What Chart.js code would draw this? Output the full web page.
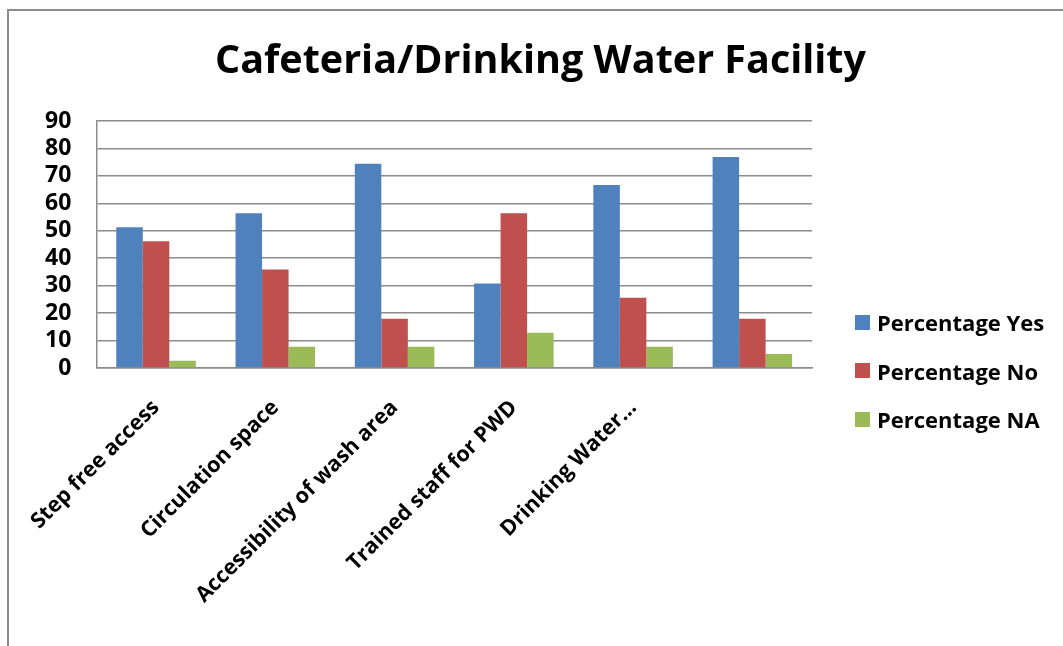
<!DOCTYPE html>
<html>
<head>
<meta charset="utf-8">
<script src="https://cdn.jsdelivr.net/npm/chart.js@4/dist/chart.umd.min.js"></script>
<style>
  html, body { margin: 0; padding: 0; background: #fff; overflow: hidden; }
  #wrap { position: relative; width: 1063px; height: 646px; overflow: hidden; }
  #frame { position: absolute; left: 7px; top: 9px; width: 1200px; height: 800px;
           border: 2px solid #8c8c8c; box-sizing: border-box; }
  #chart { position: absolute; left: 0; top: 0; }
  #legend { position: absolute; left: 855px; top: 308px; font-family: "Open Sans", sans-serif;
            font-weight: bold; font-size: 22px; color: #000; }
  .item { display: flex; align-items: center; height: 28px; margin-bottom: 20.5px; white-space: nowrap; }
  .swatch { width: 15px; height: 15px; margin-right: 7px; flex: none; }
</style>
</head>
<body>
<div id="wrap">
  <div id="frame"></div>
  <canvas id="chart" width="1063" height="646"></canvas>
  <div id="legend"></div>
</div>
<script>
const categories = [
  'Step free access',
  'Circulation space',
  'Accessibility of wash area',
  'Trained staff for PWD',
  'Drinking Water\u2026',
  ''
];
const seriesNames = ['Percentage Yes', 'Percentage No', 'Percentage NA'];
const yesValues = [51.3, 56.4, 74.4, 30.8, 66.7, 76.9];
const noValues  = [46.2, 35.9, 17.9, 56.4, 25.6, 17.9];
const naValues  = [2.6, 7.7, 7.7, 12.8, 7.7, 5.1];
const yTickValues = [0, 10, 20, 30, 40, 50, 60, 70, 80, 90];

const colors = ['#4F81BD', '#C0504D', '#9BBB59'];
const gridGray = '#8c8c8c';
const fontFamily = '"Open Sans", sans-serif';
const padLeft = 18;

const chart = new Chart(document.getElementById('chart'), {
  type: 'bar',
  data: {
    labels: categories,
    datasets: [yesValues, noValues, naValues].map((values, i) => ({
      label: seriesNames[i],
      data: values,
      backgroundColor: colors[i],
      borderWidth: 0,
      categoryPercentage: 0.667,
      barPercentage: 1.0,
      yAxisID: 'y'
    }))
  },
  options: {
    responsive: false,
    animation: false,
    layout: { padding: { left: padLeft, right: 0, top: 0, bottom: 0 } },
    plugins: {
      legend: { display: false },
      tooltip: { enabled: false },
      title: {
        display: true,
        text: 'Cafeteria/Drinking Water Facility',
        color: '#000',
        font: { family: fontFamily, size: 39.5, weight: 'bold', lineHeight: 1.2 },
        padding: { top: 38, bottom: 35.6 }
      }
    },
    scales: {
      x: {
        grid: { display: false, drawTicks: false },
        border: { display: true, color: gridGray, width: 1.5 },
        ticks: {
          color: '#000',
          font: { family: fontFamily, size: 21.5, weight: 'bold' },
          minRotation: 45,
          maxRotation: 45,
          autoSkip: false,
          padding: 27
        },
        afterFit: s => { s.height = 646 - 368; }
      },
      y: {
        min: 0,
        max: 90,
        afterBuildTicks: s => { s.ticks = yTickValues.map(v => ({ value: v })); },
        grid: { color: gridGray, lineWidth: 1.5, drawTicks: false },
        border: { display: true, color: gridGray, width: 1.5 },
        ticks: {
          color: '#000',
          font: { family: fontFamily, size: 23, weight: 'bold' },
          padding: 25,
          autoSkip: false
        },
        afterFit: s => { s.width = 95 - padLeft; }
      },
      legendSpace: {
        position: 'right',
        display: true,
        grid: { display: false, drawTicks: false },
        border: { display: false },
        ticks: { display: false },
        afterFit: s => { s.width = 1063 - 812; }
      }
    }
  }
});

// Series key, built from the chart's own datasets
const legendEl = document.getElementById('legend');
chart.data.datasets.forEach(ds => {
  const item = document.createElement('div');
  item.className = 'item';
  const sw = document.createElement('span');
  sw.className = 'swatch';
  sw.style.background = ds.backgroundColor;
  const txt = document.createElement('span');
  txt.textContent = ds.label;
  item.appendChild(sw);
  item.appendChild(txt);
  legendEl.appendChild(item);
});
</script>
</body>
</html>
